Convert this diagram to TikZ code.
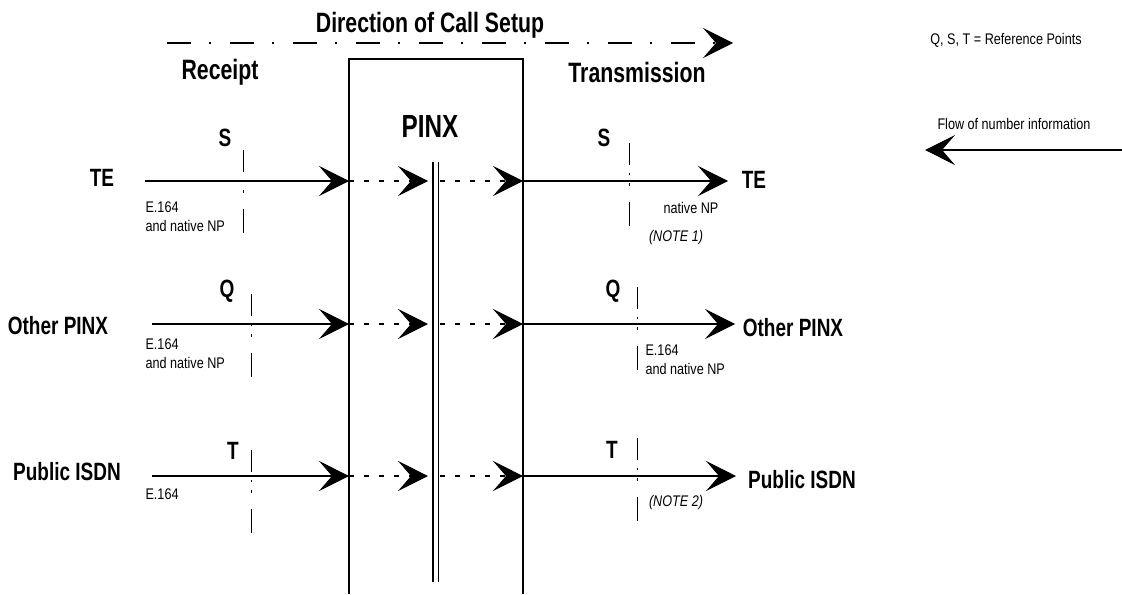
\documentclass[tikz,border=0pt]{standalone}
\usepackage{fontspec}
\setmainfont[FakeStretch=0.82]{Liberation Sans}
\newfontfamily\labelfont[FakeStretch=0.76]{Liberation Sans}
\usetikzlibrary{arrows.meta}

\begin{document}
\begin{tikzpicture}[x=0.5pt, y=-0.5pt, line width=0.55pt,
head/.style={font=\labelfont\bfseries\fontsize{14}{16}\selectfont},
big/.style={font=\labelfont\bfseries\fontsize{12.5}{14}\selectfont},
small/.style={font=\fontsize{7.7}{9.5}\selectfont, align=left, inner sep=0pt},
note/.style={font=\fontsize{7.7}{9.5}\selectfont\itshape, inner sep=0pt},
flow/.style={-{Stealth[length=15pt,width=15pt,inset=6.5pt]}},
inner/.style={flow, dash pattern=on 2.5pt off 5pt},
refline/.style={line width=0.5pt, dash pattern=on 11pt off 4pt on 1pt off 4pt on 1.5pt off 8pt on 14pt off 40pt},
setup/.style={flow, dash pattern=on 12pt off 9pt on 1pt off 9.5pt}]
\useasboundingbox (0,0) rectangle (1122,594);

\node[head] (dir) at (430,25) {Direction of Call Setup};
\coordinate (setup-a) at (167,43);
\coordinate (setup-b) at (733,43);
\draw[setup] (setup-a) -- (setup-b);
\node[head] (rec) at (220,72) {Receipt};
\node[head] (trans) at (637,72) {Transmission};

\draw (349,594) -- (349,59) -- (523,59) -- (523,594);
\node[font=\labelfont\bfseries\fontsize{16}{18}\selectfont] (pinx) at (430,126) {PINX};
\draw (433,162) -- (433,582);
\draw (438.5,162) -- (438.5,582);

\node[small] (legend-ref) at (1006,40) {Q, S, T = Reference Points};
\node[small] (legend-flow) at (1014,124) {Flow of number information};
\coordinate (legend-r) at (1122,150);
\coordinate (legend-l) at (925,150);
\draw[flow] (legend-r) -- (legend-l);

\node[big] (te-l) at (102,178) {TE};
\node[big] (s-l) at (225,138) {S};
\node[small, anchor=west] (te-l-txt) at (145,217) {E.164\\and native NP};
\draw[refline] (243,150) -- (243,233);
\coordinate (te-in) at (145,181);
\coordinate (te-box) at (349,181);
\coordinate (te-mid) at (428,181);
\coordinate (te-mid2) at (440,181);
\coordinate (te-out) at (523,181);
\coordinate (te-end) at (728,181);
\draw[flow] (te-in) -- (te-box);
\draw[inner] (te-box) -- (te-mid);
\draw[inner] (te-mid2) -- (te-out);
\draw[flow] (te-out) -- (te-end);
\node[big] (s-r) at (604,138) {S};
\draw[refline] (629,143) -- (629,226);
\node[big] (te-r) at (754,180) {TE};
\node[small] (te-r-txt) at (691,208) {native NP};
\node[note] (note1) at (676,238) {(NOTE 1)};

\node[big] (pinx-l) at (58,326) {Other PINX};
\node[big] (q-l) at (227,291) {Q};
\node[small, anchor=west] (pinx-l-txt) at (145,354) {E.164\\and native NP};
\draw[refline] (251,294) -- (251,377);
\coordinate (pinx-in) at (152,324);
\coordinate (pinx-box) at (349,324);
\coordinate (pinx-mid) at (428,324);
\coordinate (pinx-mid2) at (440,324);
\coordinate (pinx-out) at (523,324);
\coordinate (pinx-end) at (735,324);
\draw[flow] (pinx-in) -- (pinx-box);
\draw[inner] (pinx-box) -- (pinx-mid);
\draw[inner] (pinx-mid2) -- (pinx-out);
\draw[flow] (pinx-out) -- (pinx-end);
\node[big] (q-r) at (613,291) {Q};
\draw[refline] (637,287) -- (637,370);
\node[big] (pinx-r) at (793,328) {Other PINX};
\node[small, anchor=west] (pinx-r-txt) at (645,360) {E.164\\and native NP};

\node[big] (isdn-l) at (67,472) {Public ISDN};
\node[big] (t-l) at (233,451) {T};
\node[small, anchor=west] (isdn-l-txt) at (145,494) {E.164};
\draw[refline] (251,450) -- (251,533);
\coordinate (isdn-in) at (152,476);
\coordinate (isdn-box) at (349,476);
\coordinate (isdn-mid) at (428,476);
\coordinate (isdn-mid2) at (440,476);
\coordinate (isdn-out) at (523,476);
\coordinate (isdn-end) at (736,476);
\draw[flow] (isdn-in) -- (isdn-box);
\draw[inner] (isdn-box) -- (isdn-mid);
\draw[inner] (isdn-mid2) -- (isdn-out);
\draw[flow] (isdn-out) -- (isdn-end);
\node[big] (t-r) at (612,450) {T};
\draw[refline] (637,438) -- (637,521);
\node[big] (isdn-r) at (802,480) {Public ISDN};
\node[note] (note2) at (676,503) {(NOTE 2)};
\end{tikzpicture}
\end{document}
